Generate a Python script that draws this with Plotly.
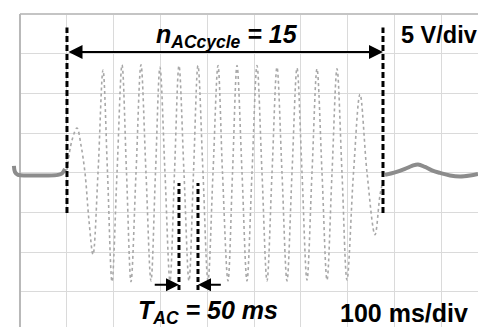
import plotly.graph_objects as go

# ---------------- data (time in ms, voltage in V) ----------------
# idle trace before the AC burst (thick)
pre_t = [-13.0, -10.7, -4.3, 21.4, 53.4, 81.2, 89.7, 96.2]
pre_v = [0.87, 0.11, -0.26, -0.33, -0.33, -0.26, -0.08, 0.49]

# AC burst (thin dotted trace): extremes and zero crossings
burst_t = [100.4, 111.1, 121.8, 130.3, 138.9, 147.4, 156.0, 166.7, 177.4, 187.0,
           196.6, 207.3, 218.0, 227.6, 237.2, 247.9, 258.5, 269.2, 279.9, 289.5,
           299.1, 309.8, 320.5, 330.1, 339.7, 350.4, 361.1, 370.7, 380.3, 391.0,
           401.7, 412.4, 423.1, 432.7, 444.4, 454.1, 463.7, 474.4, 485.0, 495.7,
           506.4, 517.1, 527.8, 538.5, 549.1, 559.8, 570.5, 581.2, 591.9, 602.6,
           613.2, 623.9, 634.6, 645.3, 656.0, 666.7, 677.4, 688.0, 698.7, 712.6,
           726.5, 741.5, 758.5, 769.2, 775.6]
burst_v = [0.37, 4.1, 5.65, 3.5, 0.0, -6.0, -10.3, 0.0, 12.95, 0.0,
           -13.7, 0.0, 13.6, 0.0, -13.7, 0.0, 13.6, 0.0, -13.6, 0.0,
           13.3, 0.0, -13.6, 0.0, 13.5, 0.0, -13.6, 0.0, 13.5, 0.0,
           -13.6, 0.0, 13.5, 0.0, -13.6, 0.0, 13.5, 0.0, -13.6, 0.0,
           13.5, 0.0, -13.6, 0.0, 13.3, 0.0, -13.6, 0.0, 13.2, 0.0,
           -13.5, 0.0, 13.1, 0.0, -13.5, 0.0, 13.1, 0.0, -13.5, 0.0,
           9.9, 0.0, -7.8, -2.8, -1.0]

# idle trace after the burst (thick)
post_t = [779.9, 801.3, 822.6, 837.6, 850.4, 865.4, 880.3, 897.4, 918.8, 940.2, 961.5, 978.6]
post_v = [-0.26, 0.05, 0.49, 0.87, 1.06, 0.74, 0.30, -0.01, -0.33, -0.45, -0.33, -0.14]

burst_start_ms = 100.4
burst_end_ms = 775.6
period_marks_ms = [339.7, 380.3]
n_ac_cycle = 15
t_ac_label = "50 ms"
volt_div = 5
time_div = 100

# ---------------- geometry helpers ----------------
W, H = 478, 327
X_RANGE = [-42.7, 978.6]
Y_RANGE = [-19.41, 21.76]


def px_x(px):
    return px / W


def px_y(py):
    return 1 - py / H


fig = go.Figure()

thick = dict(color="#8c8c8c", width=4)
fig.add_trace(go.Scatter(x=pre_t, y=pre_v, mode="lines", line=dict(**thick, shape="spline"),
                         hoverinfo="skip"))
fig.add_trace(go.Scatter(x=burst_t, y=burst_v, mode="lines",
                         line=dict(color="#a8a8a8", width=1.6, dash="dot", shape="spline", smoothing=1.0),
                         hoverinfo="skip"))
fig.add_trace(go.Scatter(x=post_t, y=post_v, mode="lines", line=dict(**thick, shape="spline"),
                         hoverinfo="skip"))

shapes = []
# mask grid outside the screen area (left of 0 ms, above +4 div)
top_v = 4 * volt_div
shapes.append(dict(type="rect", xref="x", yref="y", x0=X_RANGE[0], x1=0, y0=Y_RANGE[0], y1=Y_RANGE[1],
                   fillcolor="white", line=dict(width=0), layer="between"))
shapes.append(dict(type="rect", xref="x", yref="y", x0=X_RANGE[0], x1=X_RANGE[1], y0=top_v, y1=Y_RANGE[1],
                   fillcolor="white", line=dict(width=0), layer="between"))
# screen borders
shapes.append(dict(type="line", xref="x", yref="y", x0=0, x1=X_RANGE[1], y0=top_v, y1=top_v,
                   line=dict(color="#c4c4c4", width=2), layer="between"))
shapes.append(dict(type="line", xref="x", yref="y", x0=0, x1=0, y0=Y_RANGE[0], y1=top_v,
                   line=dict(color="#b8b8b8", width=2), layer="between"))
# burst markers
for t in (burst_start_ms, burst_end_ms):
    shapes.append(dict(type="line", xref="x", yref="y", x0=t, x1=t, y0=-5.05, y1=18.3,
                       line=dict(color="black", width=3, dash="6px,3px")))
# period markers
for t in period_marks_ms:
    shapes.append(dict(type="line", xref="x", yref="y", x0=t, x1=t, y0=-14.74, y1=-1.27,
                       line=dict(color="black", width=3, dash="5px,3px")))

fig.update_layout(shapes=shapes)

ann = []
# n_AC arrow (double-headed)
ann.append(dict(x=burst_end_ms, y=15.2, ax=burst_start_ms, ay=15.2, xref="x", yref="y",
                axref="x", ayref="y", text="", showarrow=True, arrowhead=2, startarrowhead=2,
                arrowside="end+start", arrowsize=1.4, startarrowsize=1.4, arrowwidth=2, arrowcolor="black"))
# T_AC arrows
ann.append(dict(x=period_marks_ms[0], y=-14.1, ax=period_marks_ms[0] - 55, ay=-14.1, xref="x", yref="y",
                axref="x", ayref="y", text="", showarrow=True, arrowhead=2, arrowsize=1.3,
                arrowwidth=2, arrowcolor="black"))
ann.append(dict(x=period_marks_ms[1], y=-14.1, ax=period_marks_ms[1] + 52, ay=-14.1, xref="x", yref="y",
                axref="x", ayref="y", text="", showarrow=True, arrowhead=2, arrowsize=1.3,
                arrowwidth=2, arrowcolor="black"))

font = dict(family="Liberation Sans, Arial, sans-serif", color="black")
ann.append(dict(x=px_x(227), y=px_y(36), xref="paper", yref="paper", showarrow=False,
                xanchor="center", yanchor="middle",
                text=f"<b><i>n<sub>ACcycle</sub> = {n_ac_cycle}</i></b>", font=dict(**font, size=25)))
ann.append(dict(x=px_x(399), y=px_y(35), xref="paper", yref="paper", showarrow=False,
                xanchor="left", yanchor="middle",
                text=f"<b>{volt_div} V/div</b>", font=dict(**font, size=23.5)))
ann.append(dict(x=px_x(136), y=px_y(312), xref="paper", yref="paper", showarrow=False,
                xanchor="left", yanchor="middle",
                text=f"<b><i>T<sub>AC</sub> = {t_ac_label}</i></b>", font=dict(**font, size=25)))
ann.append(dict(x=px_x(338), y=px_y(313), xref="paper", yref="paper", showarrow=False,
                xanchor="left", yanchor="middle",
                text=f"<b>{time_div} ms/div</b>", font=dict(**font, size=25)))
fig.update_layout(annotations=ann)

fig.update_xaxes(range=X_RANGE, tick0=0, dtick=time_div, showgrid=True, gridcolor="#dadada",
                 gridwidth=1, zeroline=False, showticklabels=False, ticks="", showline=False)
fig.update_yaxes(range=Y_RANGE, tick0=0, dtick=volt_div, showgrid=True, gridcolor="#dadada",
                 gridwidth=1, zeroline=False, showticklabels=False, ticks="", showline=False)

fig.update_layout(width=W, height=H, margin=dict(l=0, r=0, t=0, b=0),
                  paper_bgcolor="white", plot_bgcolor="white", showlegend=False)

fig.write_html("out.html")
